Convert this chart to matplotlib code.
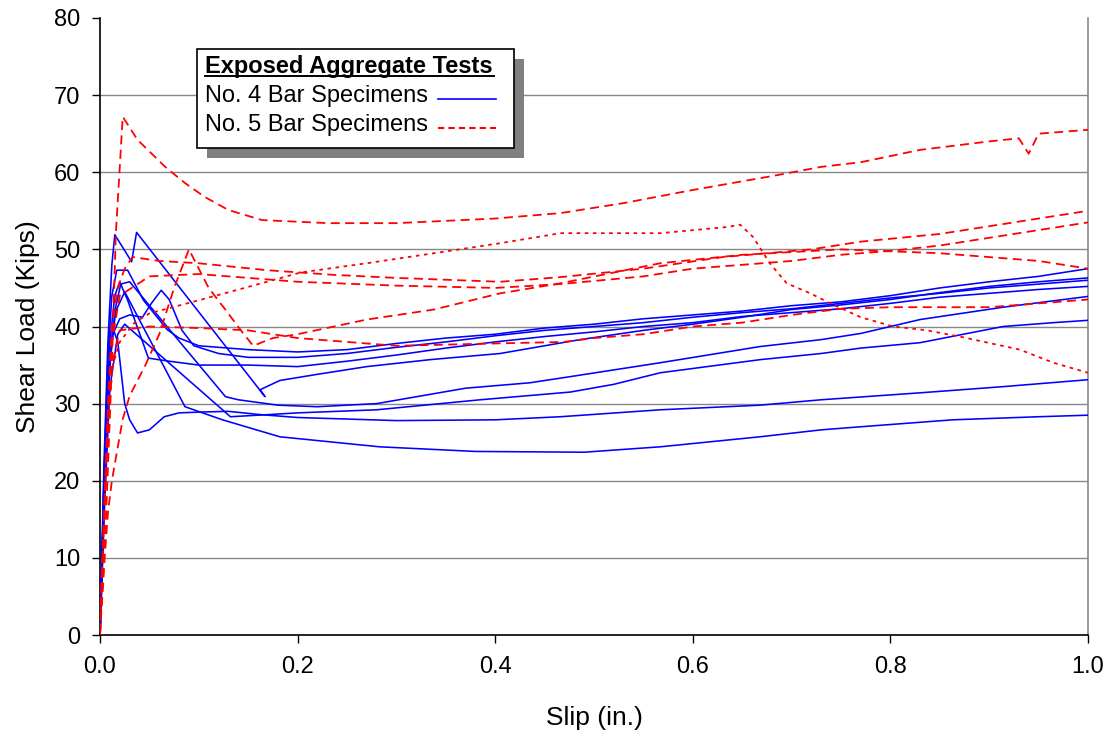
import matplotlib
matplotlib.use("Agg")
import matplotlib.pyplot as plt
from matplotlib.patches import Rectangle
from matplotlib.lines import Line2D

plt.rcParams['font.family'] = ['Liberation Sans', 'DejaVu Sans']

# ---------------- data ----------------
# No. 4 bar specimens (blue, solid)
b1_x = [0, 0.004, 0.008, 0.012, 0.015, 0.032, 0.037, 0.167, 0.162, 0.182, 0.22, 0.27, 0.334, 0.405, 0.486, 0.55, 0.6, 0.65, 0.7, 0.75, 0.8, 0.85, 0.9, 0.95, 1.0]
b1_y = [0, 22, 38, 48, 51.9, 48.4, 52.2, 30.9, 31.8, 33.0, 33.8, 34.8, 35.7, 36.5, 38.3, 39.5, 40.3, 41.2, 42.2, 42.8, 43.5, 44.4, 45.2, 45.8, 46.3]

b2_x = [0, 0.004, 0.008, 0.012, 0.017, 0.028, 0.044, 0.068, 0.08, 0.1, 0.15, 0.2, 0.25, 0.3, 0.35, 0.4, 0.45, 0.5, 0.55, 0.6, 0.65, 0.7, 0.75, 0.8, 0.85, 0.9, 0.95, 1.0]
b2_y = [0, 20, 36, 44, 47.3, 47.3, 43.4, 39.6, 38.5, 37.5, 37.0, 36.7, 37.0, 37.8, 38.5, 39.0, 39.8, 40.3, 41.0, 41.5, 42.0, 42.7, 43.2, 44.0, 45.0, 45.8, 46.5, 47.5]

b3_x = [0, 0.004, 0.008, 0.013, 0.02, 0.03, 0.043, 0.052, 0.062, 0.07, 0.083, 0.095, 0.12, 0.15, 0.2, 0.25, 0.3, 0.35, 0.4, 0.45, 0.5, 0.55, 0.6, 0.65, 0.7, 0.75, 0.8, 0.85, 0.9, 0.95, 1.0]
b3_y = [0, 18, 32, 39, 41, 41.5, 41.2, 43, 44.7, 43.5, 39.5, 37.5, 36.5, 36.0, 36.0, 36.5, 37.3, 38.0, 38.8, 39.5, 40.0, 40.5, 41.2, 41.8, 42.3, 43.0, 43.7, 44.3, 45.0, 45.5, 46.0]

b4_x = [0, 0.005, 0.01, 0.015, 0.02, 0.028, 0.049, 0.07, 0.1, 0.15, 0.2, 0.25, 0.3, 0.35, 0.4, 0.45, 0.5, 0.55, 0.6, 0.65, 0.7, 0.75, 0.8, 0.85, 0.9, 0.95, 1.0]
b4_y = [0, 24, 38, 44, 45.8, 43.4, 35.9, 35.5, 35.0, 35.0, 34.8, 35.5, 36.3, 37.2, 38.0, 38.7, 39.3, 40.0, 40.5, 41.3, 41.8, 42.3, 43.0, 43.8, 44.3, 44.8, 45.2]

b5_x = [0, 0.005, 0.01, 0.015, 0.021, 0.03, 0.127, 0.14, 0.18, 0.22, 0.28, 0.37, 0.435, 0.476, 0.567, 0.668, 0.73, 0.77, 0.83, 0.914, 1.0]
b5_y = [0, 20, 35, 42, 45.5, 45.8, 30.9, 30.5, 29.8, 29.6, 30.0, 32.0, 32.7, 33.5, 35.3, 37.4, 38.3, 39.1, 40.9, 42.5, 43.9]

b6_x = [0, 0.005, 0.01, 0.018, 0.025, 0.132, 0.16, 0.2, 0.28, 0.385, 0.476, 0.52, 0.567, 0.668, 0.73, 0.77, 0.83, 0.914, 0.965, 1.0]
b6_y = [0, 18, 32, 39, 40.3, 28.3, 28.5, 28.8, 29.2, 30.5, 31.5, 32.5, 34.0, 35.7, 36.5, 37.2, 37.9, 40.0, 40.5, 40.8]

b7_x = [0, 0.004, 0.008, 0.013, 0.018, 0.025, 0.03, 0.038, 0.05, 0.065, 0.08, 0.1, 0.13, 0.16, 0.2, 0.3, 0.4, 0.466, 0.567, 0.668, 0.73, 0.83, 0.914, 1.0]
b7_y = [0, 20, 33, 39.8, 38, 30, 27.9, 26.2, 26.6, 28.3, 28.8, 28.9, 29.0, 28.6, 28.2, 27.8, 27.9, 28.3, 29.2, 29.8, 30.5, 31.4, 32.2, 33.1]

b8_x = [0, 0.005, 0.01, 0.016, 0.025, 0.086, 0.124, 0.182, 0.283, 0.38, 0.49, 0.567, 0.668, 0.73, 0.77, 0.863, 0.95, 1.0]
b8_y = [0, 22, 36, 42, 44.5, 29.6, 27.9, 25.7, 24.4, 23.8, 23.7, 24.4, 25.7, 26.6, 27.0, 27.9, 28.3, 28.5]

# No. 5 bar specimens (red, dashed)
r1_x = [0, 0.006, 0.012, 0.016, 0.023, 0.038, 0.066, 0.086, 0.106, 0.13, 0.164, 0.231, 0.3, 0.4, 0.466, 0.53, 0.6, 0.68, 0.73, 0.77, 0.83, 0.9, 0.93, 0.94, 0.95, 1.0]
r1_y = [0, 15, 35, 52, 67.2, 64.2, 60.7, 58.6, 56.8, 55.1, 53.8, 53.4, 53.4, 54.0, 54.7, 56.0, 57.7, 59.5, 60.7, 61.3, 62.9, 64.0, 64.4, 62.4, 65.0, 65.5]

r2_x = [0, 0.004, 0.008, 0.013, 0.02, 0.035, 0.05, 0.1, 0.152, 0.203, 0.27, 0.338, 0.405, 0.466, 0.567, 0.635, 0.648, 0.661, 0.678, 0.695, 0.719, 0.736, 0.77, 0.803, 0.837, 0.87, 0.931, 0.965, 1.0]
r2_y = [0, 15, 28, 35, 38, 40.5, 41.7, 43.4, 45.2, 47.0, 48.2, 49.5, 50.8, 52.1, 52.1, 52.9, 53.2, 51.6, 48.2, 45.6, 44.3, 43.2, 41.2, 40.0, 39.5, 38.7, 37.0, 35.3, 34.0]

r3_x = [0, 0.004, 0.008, 0.012, 0.018, 0.025, 0.033, 0.06, 0.1, 0.169, 0.236, 0.3, 0.405, 0.466, 0.55, 0.63, 0.72, 0.77, 0.85, 0.9, 0.95, 1.0]
r3_y = [0, 15, 30, 40, 45, 47.5, 49, 48.5, 48.2, 47.3, 46.7, 46.3, 45.8, 46.4, 47.5, 49.0, 50.0, 51.0, 52.0, 53.0, 54.0, 55.0]

r4_x = [0, 0.005, 0.008, 0.012, 0.023, 0.03, 0.046, 0.06, 0.075, 0.09, 0.11, 0.128, 0.142, 0.155, 0.175, 0.2, 0.27, 0.338, 0.405, 0.466, 0.52, 0.567, 0.65, 0.75, 0.85, 0.95, 1.0]
r4_y = [0, 10.5, 15.8, 20, 28, 31, 35, 39, 45, 50, 45, 42, 39.6, 37.5, 38.5, 39.0, 40.9, 42.2, 44.3, 45.6, 47.0, 48.2, 49.3, 50.0, 49.5, 48.5, 47.5]

r5_x = [0, 0.004, 0.008, 0.012, 0.02, 0.05, 0.1, 0.2, 0.3, 0.4, 0.466, 0.55, 0.6, 0.7, 0.75, 0.8, 0.85, 0.9, 0.95, 1.0]
r5_y = [0, 14, 28, 38, 44, 46.5, 46.8, 45.8, 45.3, 45.0, 45.5, 46.5, 47.5, 48.5, 49.3, 49.8, 50.5, 51.5, 52.5, 53.5]

r6_x = [0, 0.004, 0.008, 0.012, 0.02, 0.05, 0.1, 0.15, 0.2, 0.3, 0.4, 0.47, 0.5, 0.55, 0.6, 0.65, 0.7, 0.75, 0.8, 0.9, 1.0]
r6_y = [0, 15, 28, 35, 39.5, 40.0, 39.8, 39.5, 38.5, 37.5, 37.8, 38.0, 38.5, 39.0, 40.0, 40.5, 41.5, 42.3, 42.5, 42.5, 43.5]

blue_series = [(b1_x, b1_y), (b2_x, b2_y), (b3_x, b3_y), (b4_x, b4_y),
               (b5_x, b5_y), (b6_x, b6_y), (b7_x, b7_y), (b8_x, b8_y)]
red_series = [(r1_x, r1_y, 'dash'), (r2_x, r2_y, 'dot'), (r3_x, r3_y, 'dash'),
              (r4_x, r4_y, 'dash'), (r5_x, r5_y, 'dash'), (r6_x, r6_y, 'dash')]

x_ticks = [0.0, 0.2, 0.4, 0.6, 0.8, 1.0]
y_ticks = [0, 10, 20, 30, 40, 50, 60, 70, 80]

legend_title = "Exposed Aggregate Tests"
legend_labels = ["No. 4 Bar Specimens", "No. 5 Bar Specimens"]

# ---------------- figure ----------------
fig = plt.figure(figsize=(11.11, 7.36), dpi=100)
ax = fig.add_axes([100 / 1111, 101 / 736, 988 / 1111, 617 / 736])

for xs, ys in blue_series:
    ax.plot(xs, ys, color='#0000FF', lw=1.15, zorder=3)
for xs, ys, kind in red_series:
    ls = (0, (5, 3)) if kind == 'dash' else (0, (2, 2.5))
    ax.plot(xs, ys, color='#FF0000', lw=1.3, ls=ls, zorder=4)

ax.set_xlim(0, 1.0)
ax.set_ylim(0, 80)
ax.set_xticks(x_ticks)
ax.set_xticklabels([f"{v:.1f}" for v in x_ticks])
ax.set_yticks(y_ticks)
ax.tick_params(axis='both', labelsize=17, direction='out', length=6, width=1, color='black')
ax.tick_params(axis='x', pad=9)
ax.tick_params(axis='y', pad=8)

for v in y_ticks[1:-1]:
    ax.axhline(v, color='#888888', lw=1.0, zorder=1)

ax.spines['top'].set_visible(False)
ax.spines['right'].set_color('#888888')
ax.spines['right'].set_linewidth(1.2)
ax.spines['left'].set_color('black')
ax.spines['bottom'].set_color('black')
ax.spines['left'].set_linewidth(1.2)
ax.spines['bottom'].set_linewidth(1.2)

ax.set_xlabel("Slip (in.)", fontsize=19, labelpad=20)
ax.set_ylabel("Shear Load (Kips)", fontsize=19, labelpad=10)

# ---------------- legend box (drawn manually) ----------------
def ax_xy(px, py):
    return ((px - 100) / 988, (635 - py) / 617)

x0, y0 = ax_xy(197, 148)
x1, y1 = ax_xy(514, 49)
w, h = x1 - x0, y1 - y0
dx, dy = 10 / 988, 10 / 617
shadow = Rectangle((x0 + dx, y0 - dy), w, h, transform=ax.transAxes,
                   facecolor='#808080', edgecolor='none', zorder=8, clip_on=False)
box = Rectangle((x0, y0), w, h, transform=ax.transAxes,
                facecolor='white', edgecolor='black', lw=1.2, zorder=9, clip_on=False)
ax.add_patch(shadow)
ax.add_patch(box)

tx, ty = ax_xy(205, 66)
ax.text(tx, ty, legend_title, transform=ax.transAxes, fontsize=17,
        fontweight='bold', va='center', ha='left', zorder=10)
ux0, uy = ax_xy(205, 75.5)
ux1, _ = ax_xy(494, 75.5)
ax.add_line(Line2D([ux0, ux1], [uy, uy], transform=ax.transAxes, color='black',
                   lw=1.4, zorder=10))

e1x, e1y = ax_xy(205, 96)
ax.text(e1x, e1y, legend_labels[0], transform=ax.transAxes, fontsize=17,
        va='center', ha='left', zorder=10)
e2x, e2y = ax_xy(205, 125)
ax.text(e2x, e2y, legend_labels[1], transform=ax.transAxes, fontsize=17,
        va='center', ha='left', zorder=10)

lx0, ly1 = ax_xy(438, 99)
lx1, ly2 = ax_xy(496, 128)
ax.add_line(Line2D([lx0, lx1], [ly1, ly1], transform=ax.transAxes,
                   color='#0000FF', lw=1.2, zorder=10))
ax.add_line(Line2D([lx0, lx1], [ly2, ly2], transform=ax.transAxes,
                   color='#FF0000', lw=1.5, ls=(0, (3, 2)), zorder=10))

fig.savefig("out.png", dpi=100)
